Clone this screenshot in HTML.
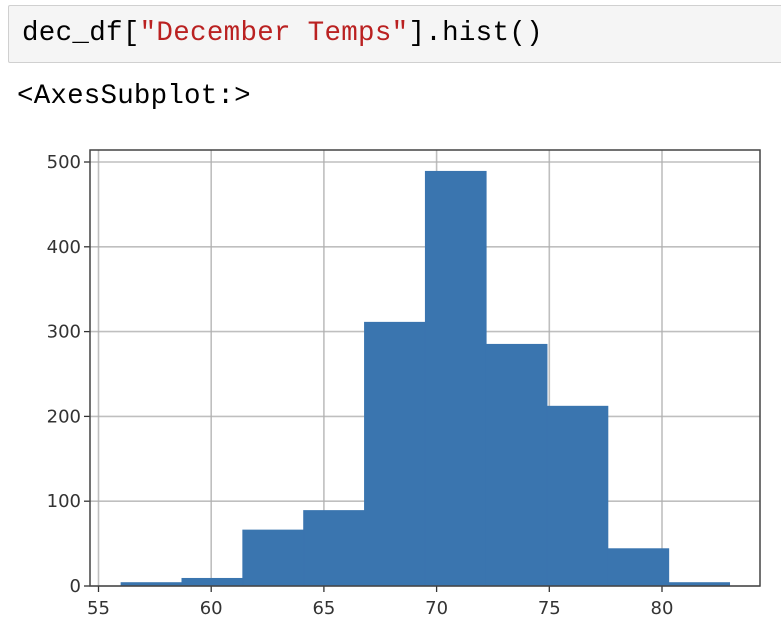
<!DOCTYPE html>
<html><head><meta charset="utf-8"><style>
body{margin:0;width:781px;height:632px;background:#fff;overflow:hidden;position:relative;font-family:"Liberation Mono",monospace}
#code{position:absolute;left:8px;top:5px;width:790px;height:58px;background:#f5f5f5;border:1px solid #d0d0d0;border-radius:2px;box-sizing:border-box}
#code span.t{position:absolute;left:13px;top:11px;font-size:27.5px;line-height:34px;color:#000;white-space:pre;letter-spacing:0.3px}
.s{color:#ba2121}
#out{position:absolute;left:17px;top:80px;font-size:27.5px;line-height:34px;white-space:pre;letter-spacing:0.2px}
svg{position:absolute;left:0;top:0}
</style></head><body>
<div id="code"><span class="t">dec_df[<span class="s">"December Temps"</span>].hist()</span></div>
<div id="out">&lt;AxesSubplot:&gt;</div>
<svg id="chart" width="781" height="632"></svg>
<script>
const binEdges=[56,58.7,61.4,64.1,66.8,69.5,72.2,74.9,77.6,80.3,83];
const counts=[4,9,66,89,311,489,285,212,44,4];
const xTicks=[55,60,65,70,75,80];
const yTicks=[0,100,200,300,400,500];
const L=90,R=760,T=150,B=586;
const xs=v=>98.5+(v-55)*22.54;
const ys=v=>586-v*0.848;
const svg=document.getElementById('chart');
const NS='http://www.w3.org/2000/svg';
function mk(tag,attrs){const e=document.createElementNS(NS,tag);for(const k in attrs)e.setAttribute(k,attrs[k]);svg.appendChild(e);return e;}
xTicks.forEach(t=>{const g=mk('line',{x1:xs(t),x2:xs(t),y1:T,y2:B,stroke:'#b0b0b0','stroke-width':1.6,opacity:0.8});

});
yTicks.forEach(t=>{const g=mk('line',{x1:L,x2:R,y1:ys(t),y2:ys(t),stroke:'#b0b0b0','stroke-width':1.6,opacity:0.8});

});
counts.forEach((c,i)=>{const r=mk('rect',{x:xs(binEdges[i]),y:ys(c),width:xs(binEdges[i+1])-xs(binEdges[i]),height:ys(0)-ys(c),fill:'#3a75af',stroke:'#3a75af','stroke-width':0.8});

});
xTicks.forEach(t=>{const x=xs(t);const g=mk('line',{x1:x,x2:x,y1:B,y2:B+6,stroke:'#333','stroke-width':1.3});


const tx=mk('text',{x:x,y:B+28,'text-anchor':'middle','font-family':'DejaVu Sans, sans-serif','font-size':18,fill:'#333'});tx.textContent=t;

});
yTicks.forEach(t=>{const y=ys(t);const g=mk('line',{x1:L-6,x2:L,y1:y,y2:y,stroke:'#333','stroke-width':1.3});


const tx=mk('text',{x:L-9,y:y+6,'text-anchor':'end','font-family':'DejaVu Sans, sans-serif','font-size':18,fill:'#333'});tx.textContent=t;

});
const f=mk('rect',{x:L,y:T,width:R-L,height:B-T,fill:'none',stroke:'#444','stroke-width':1.5});


</script>
</body></html>
